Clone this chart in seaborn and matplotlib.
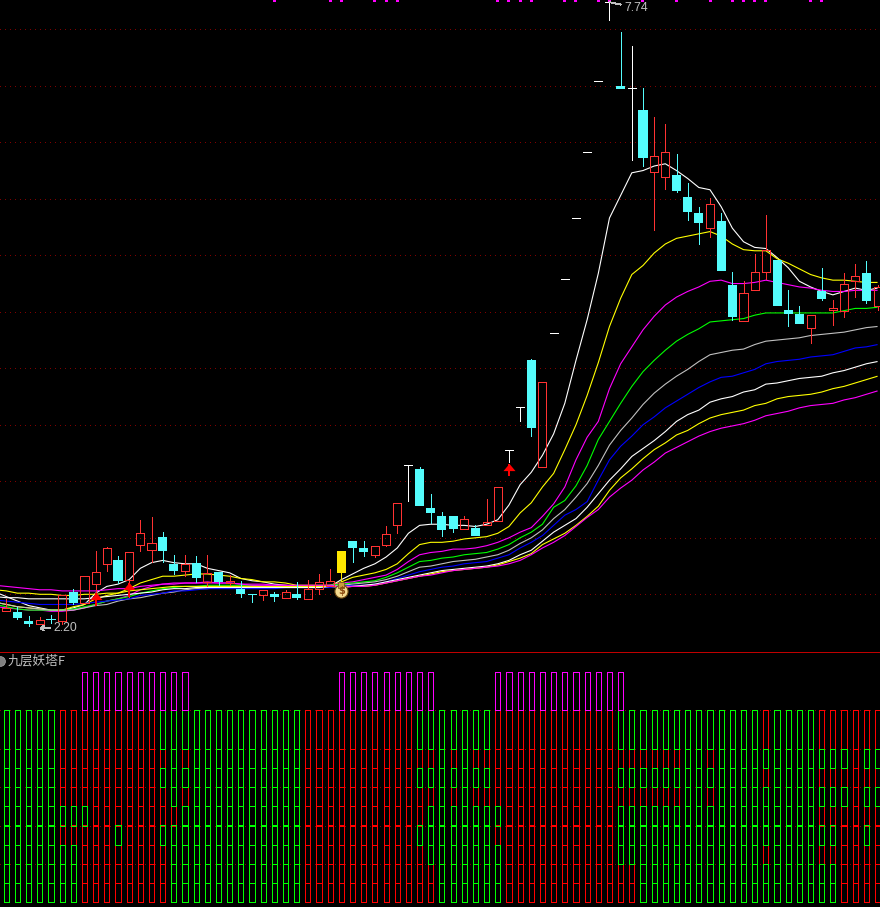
import matplotlib
matplotlib.use("Agg")
import matplotlib.pyplot as plt
import numpy as np
import seaborn as sns

# ---- candles -------------------------------------------------------------
candle_kind = list("rccrcrcrrrcrrrccrcrcrccrcrcrrryccrrrwccccrcrrwwcrwwwwwwcwcrrcccrccrrrcccrcrrrcr")
opens = [2.35,2.34,2.26,2.24,2.28,2.26,2.52,2.42,2.59,2.77,2.80,2.63,2.94,2.89,3.01,2.77,2.71,2.78,2.61,2.70,
         2.60,2.55,2.50,2.49,2.50,2.47,2.50,2.46,2.55,2.57,2.69,2.97,2.91,2.85,2.94,3.11,3.64,3.61,3.26,3.19,
         3.08,3.17,3.02,3.11,3.15,3.78,4.16,4.57,3.63,4.81,5.29,5.83,6.41,7.04,7.74,7.00,6.98,6.79,6.24,6.19,
         6.21,6.02,5.87,5.74,5.80,5.24,4.92,5.19,5.35,5.46,5.02,4.98,4.86,5.18,5.02,5.01,5.27,5.34,5.05]
highs = [2.46,2.39,2.31,2.30,2.32,2.49,2.55,2.66,2.88,2.92,2.84,2.87,3.16,3.18,3.05,2.85,2.85,2.84,2.85,2.70,
         2.67,2.62,2.50,2.54,2.52,2.54,2.61,2.63,2.68,2.72,2.88,2.97,2.97,2.93,3.10,3.31,3.64,3.63,3.39,3.23,
         3.19,3.19,3.11,3.34,3.45,3.78,4.16,4.58,4.38,4.81,5.29,5.83,6.41,7.04,7.74,7.48,7.35,6.98,6.72,6.66,
         6.40,6.14,5.93,6.01,5.87,5.35,5.27,5.51,5.86,5.46,5.19,5.05,4.97,5.39,5.10,5.34,5.42,5.45,5.24]
lows = [2.35,2.28,2.22,2.24,2.25,2.24,2.41,2.42,2.42,2.71,2.60,2.48,2.88,2.79,2.79,2.68,2.66,2.61,2.57,2.58,
        2.58,2.48,2.43,2.45,2.44,2.47,2.46,2.46,2.50,2.57,2.62,2.79,2.84,2.83,2.93,3.04,3.33,3.28,3.13,3.02,
        3.05,3.08,3.02,3.11,3.15,3.67,4.03,3.90,3.63,4.81,5.29,5.83,6.41,7.04,7.58,6.97,6.34,6.29,5.72,6.09,
        6.06,5.81,5.60,5.66,5.36,4.93,4.92,5.19,5.29,5.05,4.87,4.89,4.72,5.10,4.88,4.95,5.13,5.08,5.02]
closes = [2.38,2.29,2.24,2.27,2.27,2.49,2.42,2.66,2.70,2.91,2.62,2.87,3.04,2.95,2.88,2.71,2.77,2.64,2.69,2.61,
          2.62,2.50,2.49,2.54,2.48,2.52,2.47,2.55,2.61,2.62,2.88,2.91,2.87,2.93,3.03,3.31,3.64,3.28,3.22,3.07,
          3.19,3.08,3.09,3.14,3.45,3.78,4.16,3.97,4.38,4.81,5.29,5.83,6.41,7.04,7.74,6.97,6.98,6.36,6.38,6.41,
          6.07,5.88,5.79,5.95,5.36,4.95,5.17,5.35,5.55,5.05,4.98,4.89,4.97,5.11,5.03,5.25,5.32,5.10,5.22]

# ---- nine moving averages ------------------------------------------------
ma1 = [2.48,2.44,2.40,2.38,2.36,2.36,2.38,2.41,2.51,2.57,2.59,2.63,2.73,2.78,2.80,2.78,2.77,2.77,2.73,2.71,2.69,2.64,2.62,2.61,2.59,2.58,2.57,
       2.56,2.56,2.57,
       2.63,2.68,2.73,2.77,2.83,2.91,3.04,3.11,3.12,3.12,3.11,3.11,3.10,3.12,3.16,
       3.29,3.47,3.58,3.73,3.92,4.19,4.57,
       4.93,5.34,5.83,6.03,6.23,6.25,6.29,6.31,6.25,6.18,6.10,6.08,5.93,5.74,5.62,5.57,5.56,5.48,5.39,5.27,5.22,5.18,5.15,5.18,5.21,5.19,5.21]
ma2 = [2.41,2.39,2.38,2.37,2.36,2.36,2.39,2.41,2.46,2.49,2.51,2.55,2.60,2.63,2.66,2.66,2.67,2.68,2.68,2.67,2.66,2.64,2.63,2.61,2.61,2.60,2.58,
       2.58,2.58,2.58,
       2.61,2.65,2.67,2.69,2.72,2.77,2.86,2.94,2.96,2.96,2.97,2.99,3.00,3.01,3.04,3.10,
       3.22,3.31,3.45,3.57,3.78,4.00,4.26,4.55,
       4.87,5.12,5.33,5.41,5.52,5.60,5.65,5.67,5.69,5.71,5.67,5.60,5.55,5.54,5.54,5.47,5.43,5.38,5.33,5.30,5.28,5.28,5.27,5.26,5.26]
ma3 = [2.38,2.37,2.36,2.36,2.35,2.35,2.36,2.38,2.41,2.44,2.46,2.49,2.54,2.57,2.59,2.60,2.60,2.60,2.61,2.60,2.60,2.59,2.59,2.59,2.58,2.58,2.57,
       2.57,2.57,2.58,
       2.60,2.61,2.63,2.65,2.67,2.72,2.79,2.85,2.87,2.88,2.90,2.90,2.91,2.93,2.96,3.00,3.05,3.09,3.19,3.30,
       3.45,3.69,3.89,4.03,4.32,4.54,
       4.69,4.84,4.96,5.06,5.13,5.18,5.22,5.27,5.28,5.25,5.25,5.26,5.28,5.26,5.24,5.22,5.21,5.19,5.18,5.18,5.19,5.19,5.19]
ma4 = [2.39,2.37,2.36,2.36,2.36,2.36,2.37,2.39,2.41,2.44,2.46,2.48,2.51,2.53,2.55,2.56,2.57,2.57,2.58,2.58,2.58,2.58,2.58,2.57,2.57,2.57,2.57,
       2.57,2.57,2.58,
       2.59,2.60,2.61,2.62,2.65,2.69,2.74,2.79,2.80,2.82,2.83,2.85,2.86,2.87,2.90,2.94,3.00,3.05,3.12,3.27,
       3.33,3.46,3.64,3.87,4.03,4.19,4.34,4.47,4.57,4.66,4.74,4.80,4.85,4.91,4.92,4.93,4.94,4.97,4.99,4.99,4.99,4.99,4.99,4.99,4.99,5.01,5.03,5.03,5.04]
ma5 = [2.41,2.39,2.38,2.37,2.36,2.36,2.36,2.38,2.40,2.41,2.44,2.46,2.47,2.49,2.51,2.52,2.54,2.55,2.55,2.56,2.56,2.56,2.56,2.56,2.56,2.56,2.56,
       2.56,2.57,2.57,
       2.58,2.59,2.60,2.61,2.63,2.66,2.70,2.74,2.75,2.77,2.79,2.80,2.81,2.83,2.85,2.89,2.95,3.00,3.07,3.17,
       3.25,3.36,3.48,3.64,3.82,3.95,4.06,4.18,4.28,4.36,4.43,4.49,4.56,4.62,4.64,4.66,4.67,4.71,4.74,4.75,4.76,4.77,4.79,4.80,4.81,4.82,4.84,4.86,4.87]
ma6 = [2.44,2.43,2.42,2.41,2.41,2.41,2.41,2.42,2.43,2.44,2.45,2.46,2.49,2.50,2.51,2.53,2.53,2.54,2.55,2.55,2.55,2.55,2.55,2.55,2.55,2.56,2.56,
       2.56,2.56,2.56,
       2.57,2.58,2.58,2.59,2.61,2.64,2.67,2.70,2.72,2.74,2.75,2.77,2.78,2.79,2.82,2.85,2.91,2.96,3.02,3.11,3.20,
       3.25,3.32,3.51,3.69,3.81,3.90,4.00,4.07,4.15,4.21,4.27,4.33,4.38,4.42,4.43,4.46,4.49,4.54,4.56,4.57,4.58,4.60,4.61,4.62,4.65,4.68,4.69,4.71]
ma7 = [2.47,2.47,2.46,2.46,2.46,2.46,2.46,2.46,2.47,2.48,2.49,2.50,2.51,2.52,2.54,2.55,2.55,2.56,2.56,2.56,2.56,2.56,2.56,2.56,2.56,2.56,2.56,
       2.56,2.56,2.57,
       2.57,2.57,2.58,2.59,2.61,2.63,2.65,2.67,2.69,2.71,2.72,2.73,2.74,2.75,2.77,2.80,2.85,2.89,2.97,3.05,3.11,
       3.17,3.27,3.39,3.51,3.61,3.72,3.79,3.86,3.94,4.03,4.09,4.13,4.20,4.23,4.25,4.29,4.31,4.36,4.37,4.39,4.41,4.42,4.43,4.46,4.48,4.51,4.54,4.56]
ma8 = [2.53,2.51,2.51,2.50,2.50,2.49,2.49,2.50,2.50,2.51,2.51,2.53,2.54,2.55,2.56,2.57,2.57,2.57,2.57,2.57,2.57,2.57,2.57,2.57,2.57,2.57,2.57,
       2.57,2.57,2.57,
       2.56,2.57,2.57,2.58,2.60,2.62,2.64,2.66,2.68,2.70,2.71,2.72,2.73,2.74,2.76,2.79,2.82,2.86,2.94,
       2.99,3.04,3.11,3.19,3.28,
       3.42,3.53,3.61,3.70,3.78,3.84,3.91,3.95,4.01,4.06,4.09,4.11,4.13,4.17,4.19,4.23,4.25,4.26,4.27,4.29,4.32,4.34,4.37,4.40,4.43]
ma9 = [2.57,2.56,2.55,2.54,2.54,2.53,2.53,2.53,2.53,2.54,2.55,2.55,2.57,2.58,2.59,2.59,2.60,2.60,2.60,2.60,2.60,2.59,
       2.58,2.58,2.58,2.58,2.58,2.58,2.58,2.58,
       2.56,2.57,2.57,2.58,2.60,2.62,2.64,2.66,2.67,2.69,2.71,2.72,2.73,2.74,2.75,2.77,2.80,2.85,2.91,2.96,3.02,3.10,3.18,
       3.25,3.36,3.44,3.51,3.60,3.67,3.75,3.80,3.85,3.90,3.94,3.97,3.99,4.01,4.04,4.08,4.10,4.12,4.15,4.17,4.18,4.19,4.22,4.24,4.27,4.30]
ma_lead = [2.52, 2.43, 2.39, 2.41, 2.43, 2.45, 2.48, 2.54, 2.58]  # values just left of the first column
ma_colors = ["#FFFFFF", "#FFFF00", "#FF00FF", "#00FF00", "#C0C0C0", "#0000FF", "#FFFFFF", "#FFFF00", "#FF00FF"]

# ---- signals -------------------------------------------------------------
arrow_cols = [8, 11, 45]
arrow_tops = [2.51, 2.60, 3.65]
arrow_bottoms = [2.40, 2.48, 3.55]
bag_col = 30
bag_price = 2.53
top_mark_cols = [24,29,30,33,34,35,44,45,46,47,50,51,53,54,57,60,63,65,66,67,68,72,73]
low_col, low_value = 3, 2.20
high_col, high_value = 54, 7.74

# ---- tower indicator (layer colours, one letter per column) --------------
layer8 = "GGGGG RRRRRRRRR GGGGGGGGGGGGG RRRRRRRRRR GGGGGGG RRRRRRRRRRR GGGGGGGGGGGGG R GGGG RRRRRR"
layer7 = "GGGGG RRRRRRRRRR G R GGGGGGGGGG RRRRRRRRRRRR G R G RRRRRRRRRRRRRRRRRRR GG R GGGGGGGGGGGG R GG"
layer6 = "GGGGG RRRRRRRRR GGGGGGGGGGGGG RRRRRRRRRR GGGGGGG RRRRRRRRRRR GGGGGGGGGGGGG R GGGG RRRRRR"
layer5 = "GGGGG RRRRRRRRRR G R GGGGGGGGGG RRRRRRRRRRRR G R G RRRRRRRRRRRRRRRRRRR GG R GGGGGGGGGGGG R GG"
layer4 = "GGGGGGGG RRRRRRRR GGGGGGGGGGG RRRRRRRRRRR GGGGGGG RRRRRRRRRR GGGGGGGGGGGGGGGGGG RRRRRR"
layer3 = "GGGGG RRRRR G RRR GGGGGGGGGGGGG RRRRRRRRRR GGGGGGG RRRRRRRRRRR GGGGGGGGGGGGGGGGGGGG RR G R"
layer2 = "GGGGGGG RRRRRRRR GGGGGGGGGGGG RRRRRRRRRRR GGGGGGG RRRRRRRRRR GGGGGGGGGGGGG R GGGG RRRRRR"
layer1 = "GGGGGGG RRRRRRRR GGGGGGGGGGGG RRRRRRRRRRRR GGGGGG RRRRRRRRRRRR GGGGGGGGGGGGGGGGGG RRRR"
layer0 = "GGGGGGG RRRRRRRR GGGGGGGGGGGG RRRRRRRRRRRR GGGGGG RRRRRRRRRRRR GGGGGGGGGGGGGGGGGG RRRR"
tower_layers = [layer0, layer1, layer2, layer3, layer4, layer5, layer6, layer7, layer8]
layer_bottoms = [0, 1, 2, 3, 4, 5, 6, 7, 8]
layer_heights = [1, 1, 1, 1, 1, 1, 1, 1, 2]
peak_cols = [7,8,9,10,11,12,13,14,15,16,
             30,31,32,33,34,35,36,37,38,
             44,45,46,47,48,49,50,51,52,53,54,55]
peak_bottom, peak_height = 10, 2
price_grid = [2.5, 3.0, 3.5, 4.0, 4.5, 5.0, 5.5, 6.0, 6.5, 7.0, 7.5]
tower_grid = [2, 4, 6, 8, 10]
indicator_title = "九层妖塔F"

RED = "#FF3232"
CYAN = "#54FCFC"
GRID = "#800000"
GRAY = "#C0C0C0"
PX = 0.7

sns.set_theme(style="dark", rc={"axes.facecolor": "black", "figure.facecolor": "black",
                                "axes.grid": False, "patch.antialiased": False})
plt.rcParams["font.family"] = ["Noto Sans CJK SC", "DejaVu Sans"]

W, H = 880, 907
fig = plt.figure(figsize=(W / 100, H / 100), dpi=100, facecolor="black")
ax = fig.add_axes([0, (H - 652) / H, 1, 652 / H])
ax2 = fig.add_axes([0, 0, 1, (H - 653) / H])
xlim = (-6.3 / 11.17, (W - 6.3) / 11.17)
n = len(opens)
cols = np.arange(n)

for a in (ax, ax2):
    a.set_facecolor("black")
    a.set_xticks([])
    a.set_yticks([])
    for s in a.spines.values():
        s.set_visible(False)
ax.spines["bottom"].set_visible(True)
ax.spines["bottom"].set_color("#C00000")
ax.spines["bottom"].set_linewidth(PX)

# dotted grids
ax.hlines(price_grid, *xlim, color=GRID, lw=PX, linestyles=[(0, (1, 4.5))], zorder=1, antialiased=False)
ax2.hlines(tower_grid, *xlim, color=GRID, lw=PX, linestyles=[(0, (1, 4.5))], zorder=1, antialiased=False)

# moving averages
for vals, lead, c in zip([ma1, ma2, ma3, ma4, ma5, ma6, ma7, ma8, ma9], ma_lead, ma_colors):
    sns.lineplot(x=np.r_[-1, cols], y=np.r_[lead, vals], color=c, ax=ax, estimator=None, sort=False,
                 legend=False, zorder=3)
    ln = ax.lines[-1]
    ln.set_linewidth(0.8)
    ln.set_antialiased(True)
    ln.set_solid_capstyle("butt")
    ln.set_solid_joinstyle("round")

# candles
o = np.array(opens); h = np.array(highs); l = np.array(lows); c = np.array(closes)
kinds = np.array(candle_kind)
top = np.maximum(o, c); bot = np.minimum(o, c)
for k, col in (("r", RED), ("c", CYAN), ("y", "#FFE800"), ("w", "#FFFFFF")):
    m = kinds == k
    ax.vlines(cols[m], top[m], h[m], color=col, lw=PX, zorder=4, antialiased=False)
    ax.vlines(cols[m], l[m], bot[m], color=col, lw=PX, zorder=4, antialiased=False)
m = kinds == "r"
ax.bar(cols[m], top[m] - bot[m], bottom=bot[m], width=0.72, fill=False, edgecolor=RED, lw=PX, zorder=5)
m = kinds == "c"
ax.bar(cols[m], top[m] - bot[m], bottom=bot[m], width=0.81, color=CYAN, lw=0, zorder=5)
m = kinds == "y"
ax.bar(cols[m], top[m] - bot[m], bottom=bot[m], width=0.75, color="#FFE800", lw=0, zorder=5)
m = kinds == "w"
ax.hlines(c[m], cols[m] - 0.36, cols[m] + 0.36, color="#FFFFFF", lw=PX, zorder=5, antialiased=False)

# top edge marks
ax.bar(top_mark_cols, 0.03, bottom=7.74, width=0.27, color="#FF00FF", lw=0, zorder=6)

# red signal arrows
ax.vlines(arrow_cols, arrow_bottoms, arrow_tops, color="#FF0000", lw=1.4, zorder=7, antialiased=False)
head = [(-1, -0.6), (0, 0.6), (1, -0.6), (-1, -0.6)]
ax.scatter(arrow_cols, np.array(arrow_tops) - 0.025, marker=head, s=75, color="#FF0000", lw=0, zorder=7)

# money bag
ax.scatter([bag_col], [bag_price], marker="o", s=90, color="#F4D98E", edgecolor="#6E4A12", lw=0.8, zorder=8)
ax.scatter([bag_col], [bag_price + 0.055], marker="s", s=14, color="#C89A40", edgecolor="#6E4A12", lw=0.5, zorder=8)
ax.text(bag_col, bag_price - 0.002, "$", color="#8A4A10", fontsize=7, fontweight="bold",
        family="DejaVu Sans", ha="center", va="center", zorder=9)

# high / low labels
ax.annotate(f"{low_value:.2f}", xy=(low_col, low_value), xytext=(9.5, 0), textcoords="offset points",
            color=GRAY, fontsize=8.8, family="Liberation Sans", va="center", ha="left", zorder=9,
            arrowprops=dict(arrowstyle="->,head_length=0.25,head_width=0.18", color=GRAY, lw=PX,
                            shrinkA=0, shrinkB=0))
ax.annotate(f"{high_value:.2f}", xy=(high_col, high_value), xytext=(10.5, -4), textcoords="offset points",
            color=GRAY, fontsize=8.8, family="Liberation Sans", va="center", ha="left", zorder=9,
            arrowprops=dict(arrowstyle="-", color=GRAY, lw=PX, shrinkA=0, shrinkB=0))

# tower indicator
for layer, b, ht in zip(tower_layers, layer_bottoms, layer_heights):
    letters = np.array(list(layer.replace(" ", "")))
    assert letters.size == n
    for code, col in (("R", "#FF0000"), ("G", "#00FF00")):
        m = letters == code
        ax2.bar(cols[m], ht, bottom=b, width=0.46, fill=False, edgecolor=col, lw=PX,
                zorder=3 if code == "R" else 4)
ax2.bar(peak_cols, peak_height, bottom=peak_bottom, width=0.46, fill=False,
        edgecolor="#FF00FF", lw=PX, zorder=5)

ax2.scatter([-0.52], [12.57], s=50, color="#808080", edgecolor="#A8A8A8", lw=0.5, zorder=6, clip_on=True)
ax2.text(0.14, 12.57, indicator_title, color=GRAY, fontsize=9.2, ha="left", va="center", zorder=6)

# fix the scales last so that no plotting call can alter them
for a in (ax, ax2):
    a.set_xlim(*xlim)
    a.set_xlabel("")
    a.set_ylabel("")
ax.set_ylim(2.5 - 57.7 / 113, 2.5 + 594.3 / 113)
ax2.set_ylim((902.3 - 907) / 19.2, (902.3 - 653) / 19.2)

fig.savefig("out.png", dpi=100, facecolor="black")
